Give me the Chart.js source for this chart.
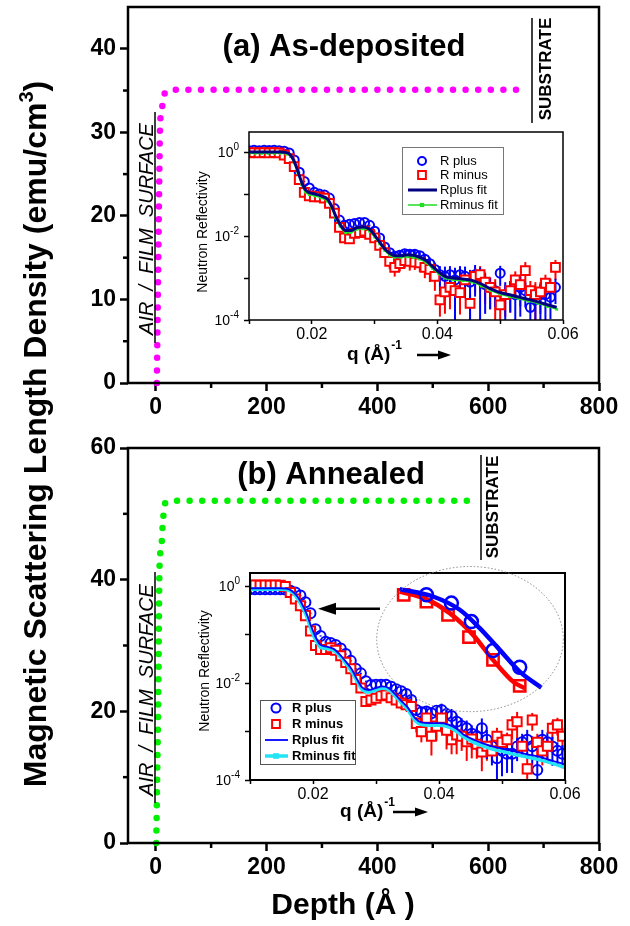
<!DOCTYPE html>
<html><head><meta charset="utf-8">
<script src="https://cdn.jsdelivr.net/npm/chart.js@4.4.1/dist/chart.umd.min.js"></script>
<style>
html,body{margin:0;padding:0;background:#fff;}
#wrap{position:relative;width:630px;height:926px;overflow:hidden;}
canvas{position:absolute;left:0;top:0;}
</style></head>
<body><div id="wrap">
<canvas id="c1" width="630" height="926"></canvas>
<canvas id="c2" width="630" height="926"></canvas>
<canvas id="c3" width="630" height="926"></canvas>
<canvas id="c4" width="630" height="926"></canvas>
</div>
<script>
const FONT = '"Liberation Sans", Arial, Helvetica, sans-serif';

// ---------- main panels: magnetic SLD depth profiles ----------
const depthA = [2, 4, 6, 8, 11, 14, 20, 29, 663];
const msldA  = [0, 11, 22, 31, 32.7, 34.2, 34.9, 35.1, 35.1];
const depthB = [1, 2, 5, 6.5, 7.8, 10.8, 11.9, 13.7, 15.5, 24, 35, 576];
const msldB  = [0, 6, 25, 40, 43.5, 45.6, 47.4, 49.5, 51.4, 51.9, 52, 52];

const depthTicks = [0, 200, 400, 600, 800];
const depthMinor = [100, 300, 500, 700];
const yTicksA = [0, 10, 20, 30, 40];
const yMinorA = [5, 15, 25, 35];
const yTicksB = [0, 20, 40, 60];
const yMinorB = [10, 30, 50];

// ---------- inset axes ----------
const qTickValues = [0.01, 0.02, 0.03, 0.04, 0.05, 0.06];
const qLabelTicks = [0.02, 0.04, 0.06];
const rTickValues = [1e-4, 1e-3, 1e-2, 1e-1, 1];
const rLabelTicks = [1e-4, 1e-2, 1];

// ---------- inset (a) As-deposited ----------
const qA = [0.0100,0.0108,0.0116,0.0124,0.0132,0.0140,0.0148,0.0156,0.0164,0.0172,
0.0180,0.0188,0.0196,0.0204,0.0212,0.0220,0.0228,0.0236,0.0244,0.0252,
0.0260,0.0268,0.0276,0.0284,0.0292,0.0300,0.0308,0.0316,0.0324,0.0332,
0.0340,0.0348,0.0356,0.0364,0.0372,0.0380,0.0388,0.0396,0.0404,0.0412,
0.0420,0.0428,0.0436,0.0444,0.0452,0.0460,0.0468,0.0476,0.0484,0.0492,
0.0500,0.0508,0.0516,0.0524,0.0532,0.0540,0.0548,0.0556,0.0564,0.0572,
0.0580,0.0588];
const rPlusA = [1.08,1.10,1.08,1.10,1.09,1.10,1.08,1.05,0.95,0.65,
0.33,0.20,0.14,0.11,0.10,0.095,0.08,0.045,0.024,0.018,
0.019,0.020,0.021,0.021,0.018,0.013,0.009,0.0055,0.004,0.0033,
0.0035,0.0038,0.0037,0.0037,0.0034,0.0028,0.0022,0.0016,0.0012,0.0011,
0.0012,0.0009,0.0012,0.0011,0.0008,0.0012,0.0009,0.0007,0.0006,0.0005,
0.0013,0.0004,0.0005,0.0004,0.0006,0.0005,0.0002,0.0003,0.0004,0.0004,
0.00035,0.0006];
const rMinusA = [0.95,0.97,0.95,0.97,0.95,0.97,0.95,0.85,0.70,0.45,
0.22,0.11,0.09,0.085,0.085,0.08,0.06,0.035,0.016,0.009,
0.0085,0.0115,0.012,0.013,0.011,0.009,0.006,0.004,0.0025,0.0018,
0.0022,0.0026,0.0025,0.0024,0.0023,0.0018,0.0016,0.0011,0.0003,0.00047,
0.0006,0.0005,0.00045,0.0009,0.00025,0.0011,0.0012,0.0008,0.0006,0.00047,
0.00023,0.0004,0.0005,0.0009,0.0007,0.0015,0.0005,0.0004,0.00047,0.00075,
0.0006,0.0018];
const errPlusA = [0.03,0.03,0.03,0.03,0.03,0.03,0.03,0.03,0.03,0.03,
0.03,0.03,0.03,0.03,0.03,0.03,0.03,0.03,0.03,0.03,
0.03,0.03,0.03,0.03,0.03,0.03,0.15,0.2,0.2,0.25,
0.25,0.25,0.3,0.3,0.3,0.35,0.4,0.45,0.6,0.7,
0.6,0.95,0.6,0.7,0.95,0.7,0.99,0.8,0.7,0.6,
0.5,0.99,0.7,0.99,0.8,0.6,0.7,0.7,0.8,0.99,
0.7,0.6];
const errMinusA = [0.03,0.03,0.03,0.03,0.03,0.03,0.03,0.03,0.03,0.03,
0.03,0.03,0.03,0.03,0.03,0.03,0.03,0.03,0.03,0.03,
0.03,0.03,0.03,0.03,0.03,0.03,0.2,0.25,0.35,0.4,
0.35,0.35,0.4,0.35,0.4,0.45,0.5,0.55,0.6,0.7,
0.7,0.99,0.7,0.6,0.8,0.6,0.6,0.7,0.7,0.99,
0.8,0.7,0.7,0.6,0.7,0.6,0.7,0.99,0.7,0.6,
0.6,0.5];
const fitPlusQA = [0.0100,0.0150,0.0160,0.0166,0.0172,0.0178,0.0184,0.0190,0.0196,0.0205,
0.0215,0.0225,0.0232,0.0238,0.0245,0.0254,0.0262,0.0272,0.0282,0.0292,
0.0300,0.0308,0.0316,0.0324,0.0332,0.0342,0.0352,0.0362,0.0372,0.0382,
0.0392,0.0402,0.0412,0.0425,0.0440,0.0455,0.0470,0.0485,0.0500,0.0515,
0.0530,0.0545,0.0560,0.0575,0.0590];
const fitPlusRA = [1.0,1.0,0.97,0.85,0.6,0.34,0.19,0.125,0.108,0.1,
0.09,0.075,0.05,0.03,0.019,0.0135,0.0135,0.016,0.0165,0.0145,
0.0105,0.0072,0.005,0.0039,0.0034,0.0034,0.0036,0.0035,0.0031,0.0026,
0.0019,0.0014,0.0011,0.001,0.00095,0.00088,0.00072,0.00055,0.00045,0.0004,
0.00035,0.00031,0.00027,0.00023,0.0002];
const fitMinusQA = [0.0100,0.0110,0.0120,0.0130,0.0140,0.0150,0.0160,0.0166,0.0172,0.0178,
0.0184,0.0190,0.0196,0.0205,0.0215,0.0225,0.0232,0.0238,0.0245,0.0254,
0.0262,0.0272,0.0282,0.0292,0.0300,0.0308,0.0316,0.0324,0.0332,0.0342,
0.0352,0.0362,0.0372,0.0382,0.0392,0.0402,0.0412,0.0425,0.0440,0.0455,
0.0470,0.0485,0.0500,0.0515,0.0530,0.0545,0.0560,0.0575,0.0590];
const fitMinusRA = [0.93,0.93,0.93,0.93,0.93,0.93,0.9,0.78,0.55,0.31,
0.17,0.112,0.097,0.09,0.081,0.067,0.045,0.027,0.017,0.012,
0.012,0.0144,0.0148,0.013,0.0094,0.0065,0.0045,0.0035,0.0031,0.0031,
0.0032,0.0031,0.0028,0.0023,0.0017,0.00126,0.001,0.0009,0.00086,0.0008,
0.00065,0.0005,0.00041,0.00036,0.00032,0.00028,0.00025,0.00021,0.00018];

// ---------- inset (b) Annealed ----------
const qB = [0.0100,0.0108,0.0116,0.0124,0.0132,0.0140,0.0148,0.0156,0.0164,0.0172,
0.0180,0.0188,0.0196,0.0204,0.0212,0.0220,0.0228,0.0236,0.0244,0.0252,
0.0260,0.0268,0.0276,0.0284,0.0292,0.0300,0.0308,0.0316,0.0324,0.0332,
0.0340,0.0348,0.0356,0.0364,0.0372,0.0380,0.0388,0.0396,0.0404,0.0412,
0.0420,0.0428,0.0436,0.0444,0.0452,0.0460,0.0468,0.0476,0.0484,0.0492,
0.0500,0.0508,0.0516,0.0524,0.0532,0.0540,0.0548,0.0556,0.0564,0.0572,
0.0580,0.0588,0.0596];
const rPlusB = [0.88,0.88,0.88,0.88,0.88,0.88,0.88,0.87,0.82,0.75,
0.65,0.47,0.28,0.13,0.095,0.072,0.068,0.062,0.052,0.04,
0.029,0.02,0.016,0.011,0.0092,0.0093,0.0093,0.0093,0.0085,0.0075,
0.0068,0.006,0.0045,0.0028,0.0025,0.0026,0.0024,0.0027,0.0028,0.0023,
0.0021,0.0016,0.0013,0.00117,0.0009,0.0008,0.00117,0.00068,0.0005,0.00028,
0.0004,0.00035,0.00035,0.00049,0.0006,0.00068,0.0005,0.00016,0.00068,0.0006,
0.00049,0.0004,0.00035];
const rMinusB = [1.06,1.07,1.06,1.07,1.06,1.07,1.06,1.0,0.75,0.55,
0.4,0.25,0.12,0.06,0.05,0.05,0.054,0.048,0.037,0.027,
0.02,0.012,0.008,0.0042,0.0045,0.0049,0.0055,0.0057,0.005,0.0045,
0.0039,0.0036,0.0033,0.00148,0.001,0.0019,0.0008,0.0013,0.0019,0.00107,
0.00068,0.00085,0.0008,0.00062,0.0007,0.00055,0.00038,0.0005,0.0004,0.0008,
0.0006,0.00068,0.00138,0.0016,0.0005,0.00017,0.00174,0.0006,0.0004,0.0005,
0.00117,0.00138,0.0008];
const errPlusB = [0.03,0.03,0.03,0.03,0.03,0.03,0.03,0.03,0.03,0.03,
0.03,0.03,0.03,0.03,0.03,0.03,0.03,0.03,0.03,0.03,
0.03,0.03,0.03,0.03,0.03,0.03,0.1,0.1,0.15,0.15,
0.15,0.2,0.2,0.25,0.3,0.3,0.3,0.3,0.35,0.35,
0.4,0.4,0.45,0.45,0.5,0.5,0.6,0.6,0.6,0.99,
0.7,0.6,0.6,0.5,0.5,0.6,0.6,0.99,0.6,0.6,
0.6,0.5,0.5];
const errMinusB = [0.03,0.03,0.03,0.03,0.03,0.03,0.03,0.03,0.03,0.03,
0.03,0.03,0.03,0.03,0.03,0.03,0.03,0.03,0.03,0.03,
0.03,0.03,0.03,0.03,0.03,0.03,0.15,0.15,0.2,0.2,
0.25,0.25,0.3,0.35,0.4,0.6,0.6,0.5,0.5,0.6,
0.5,0.6,0.5,0.6,0.6,0.5,0.6,0.5,0.4,0.5,
0.4,0.4,0.5,0.6,0.4,0.9,0.4,0.5,0.5,0.5,
0.4,0.4,0.5];
const fitPlusQB = [0.0100,0.0150,0.0158,0.0166,0.0174,0.0182,0.0190,0.0198,0.0205,0.0212,
0.0222,0.0232,0.0242,0.0252,0.0262,0.0270,0.0278,0.0288,0.0298,0.0310,
0.0320,0.0330,0.0340,0.0350,0.0362,0.0372,0.0385,0.0400,0.0415,0.0428,
0.0440,0.0455,0.0470,0.0486,0.0505,0.0523,0.0540,0.0560,0.0580,0.0600];
const fitPlusRB = [0.92,0.92,0.9,0.82,0.65,0.45,0.27,0.14,0.085,0.062,
0.057,0.052,0.04,0.028,0.019,0.012,0.0082,0.0072,0.0078,0.0086,
0.008,0.006,0.0043,0.0032,0.0019,0.00155,0.0015,0.0015,0.0014,0.00115,
0.00085,0.00068,0.00057,0.00049,0.00043,0.00038,0.00034,0.0003,0.00025,0.00021];
const fitMinusQB = [0.0100,0.0110,0.0120,0.0130,0.0140,0.0150,0.0158,0.0166,0.0174,0.0182,
0.0190,0.0198,0.0205,0.0212,0.0222,0.0232,0.0242,0.0252,0.0262,0.0270,
0.0278,0.0288,0.0298,0.0310,0.0320,0.0330,0.0340,0.0350,0.0362,0.0372,
0.0385,0.0400,0.0415,0.0428,0.0440,0.0455,0.0470,0.0486,0.0505,0.0523,
0.0540,0.0560,0.0580,0.0600];
const fitMinusRB = [0.88,0.88,0.88,0.88,0.88,0.88,0.86,0.78,0.6,0.4,
0.24,0.12,0.075,0.055,0.052,0.048,0.037,0.026,0.017,0.011,
0.0075,0.0066,0.0071,0.0079,0.0074,0.0055,0.004,0.0029,0.0017,0.0014,
0.00135,0.00135,0.00125,0.001,0.00076,0.0006,0.0005,0.00043,0.00038,0.00033,
0.0003,0.00026,0.00022,0.00018];
// magnified view inside the ellipse (drawn on the inset's axes)
const zoomPlusLineQ = [0.03376,0.03905,0.04329,0.04646,0.04963,0.05281,0.05625];
const zoomPlusLineR = [0.883,0.621,0.330,0.138,0.049,0.0174,0.0081];
const zoomMinusLineQ = [0.03376,0.03800,0.04170,0.04540,0.04857,0.05175,0.05360];
const zoomMinusLineR = [0.787,0.548,0.281,0.100,0.0304,0.0108,0.0079];
const zoomPlusPtsQ = [0.0380,0.04197,0.04514,0.04857,0.05281];
const zoomPlusPtsR = [0.673,0.453,0.188,0.0473,0.0214];
const zoomMinusPtsQ = [0.03440,0.0380,0.04143,0.04476,0.04857,0.05281];
const zoomMinusPtsR = [0.673,0.49,0.26,0.0896,0.0304,0.0088];
const ellipseB = {q:0.04492, r:0.0818, dq:0.01481, decades:1.50};
const arrowB = {qFrom:0.03063, qTo:0.02079, r:0.345};

// ---------- helpers ----------
const pts = (xs, ys) => xs.map((x, i) => ({x: x, y: ys[i]}));
function line(ctx, x1, y1, x2, y2) { ctx.beginPath(); ctx.moveTo(x1, y1); ctx.lineTo(x2, y2); ctx.stroke(); }
function rotText(ctx, txt, x, y, font) {
  ctx.save(); ctx.translate(x, y); ctx.rotate(-Math.PI / 2);
  ctx.font = font; ctx.textAlign = 'center'; ctx.textBaseline = 'alphabetic';
  ctx.fillStyle = '#000'; ctx.fillText(txt, 0, 0); ctx.restore();
}
function arrowH(ctx, x1, x2, y, head, half, lw) {
  const d = Math.sign(x2 - x1);
  ctx.lineWidth = lw; line(ctx, x1, y, x2 - d * head * 0.7, y);
  ctx.beginPath(); ctx.moveTo(x2, y); ctx.lineTo(x2 - d * head, y - half); ctx.lineTo(x2 - d * head, y + half);
  ctx.closePath(); ctx.fill();
}
function supRight(ctx, xr, y, base, sup, bf, sf, rise) {
  ctx.font = sf; const ws = ctx.measureText(sup).width;
  ctx.font = bf; const wb = ctx.measureText(base).width;
  const x0 = xr - ws - wb;
  ctx.textAlign = 'left'; ctx.textBaseline = 'middle';
  ctx.font = bf; ctx.fillText(base, x0, y);
  ctx.font = sf; ctx.fillText(sup, x0 + wb, y - rise);
}
function qLabel(ctx, x0, y, ax1, ax2) {
  ctx.fillStyle = '#000'; ctx.strokeStyle = '#000';
  ctx.textAlign = 'left'; ctx.textBaseline = 'middle';
  ctx.font = 'bold 19px ' + FONT; ctx.fillText('q (Å)', x0, y);
  const w = ctx.measureText('q (Å)').width;
  ctx.font = 'bold 12px ' + FONT; ctx.fillText('-1', x0 + w + 1, y - 9);
  arrowH(ctx, ax1, ax2, y, 13, 4.5, 2.5);
}
function mark(ctx, style, x, y, r, color, lw, fill) {
  ctx.save(); ctx.strokeStyle = color; ctx.lineWidth = lw; ctx.fillStyle = fill || color;
  ctx.beginPath();
  if (style === 'circle') ctx.arc(x, y, r, 0, Math.PI * 2);
  else { const s = r * Math.SQRT1_2; ctx.rect(x - s, y - s, 2 * s, 2 * s); }
  if (fill) ctx.fill();
  if (lw > 0) ctx.stroke();
  ctx.restore();
}
function drawErrorBars(chart) {
  const ctx = chart.ctx, a = chart.chartArea, xs = chart.scales.x, ys = chart.scales.y;
  ctx.save(); ctx.beginPath(); ctx.rect(a.left, a.top, a.right - a.left, a.bottom - a.top); ctx.clip();
  chart.data.datasets.forEach(ds => {
    if (!ds.errRel) return;
    ctx.strokeStyle = ds.borderColor; ctx.lineWidth = 2;
    ds.data.forEach((p, i) => {
      const e = ds.errRel[i];
      const lo = Math.max(p.y * (1 - e), ys.min);
      const hi = p.y * (1 + e);
      const x = xs.getPixelForValue(p.x);
      line(ctx, x, ys.getPixelForValue(lo), x, ys.getPixelForValue(hi));
    });
  });
  ctx.restore();
}
function drawLegend(ctx, chart, L) {
  ctx.save();
  ctx.fillStyle = '#fff'; ctx.fillRect(L.x, L.y, L.w, L.h);
  ctx.strokeStyle = L.border; ctx.lineWidth = 1; ctx.strokeRect(L.x + 0.5, L.y + 0.5, L.w, L.h);
  L.items.forEach((it, k) => {
    const ds = chart.data.datasets[it.ds], y = L.rows[k];
    if (it.kind === 'line' || it.kind === 'linept') {
      ctx.strokeStyle = ds.borderColor; ctx.lineWidth = ds.borderWidth; line(ctx, L.x1, y, L.x2, y);
    }
    if (it.kind === 'pt') mark(ctx, ds.pointStyle, L.sx, y, it.r, ds.borderColor, 2, null);
    if (it.kind === 'linept') mark(ctx, 'rect', L.sx, y, it.r, ds.borderColor, 0, ds.borderColor);
    ctx.fillStyle = '#000'; ctx.font = L.font; ctx.textAlign = 'left'; ctx.textBaseline = 'middle';
    ctx.fillText(ds.label, L.tx, y);
  });
  ctx.restore();
}
function noPad(s) { s.paddingTop = 0; s.paddingBottom = 0; s.paddingLeft = 0; s.paddingRight = 0; }

// ---------- main chart factory ----------
const MAIN_YW = 80, MAIN_XH = 50;
function mainChart(id, xs, ys, color, yMax, yMajor, yMinor, area, annot) {
  const deco = {
    id: 'mainDeco',
    afterDraw(chart) {
      const ctx = chart.ctx, a = chart.chartArea, sx = chart.scales.x, sy = chart.scales.y;
      ctx.save();
      ctx.strokeStyle = '#000'; ctx.lineWidth = 2.5;
      ctx.strokeRect(a.left, a.top, a.right - a.left, a.bottom - a.top);
      depthMinor.forEach(v => { const x = sx.getPixelForValue(v); line(ctx, x, a.bottom, x, a.bottom + 5); });
      yMinor.forEach(v => { const y = sy.getPixelForValue(v); line(ctx, a.left - 5, y, a.left, y); });
      annot(ctx, chart);
      ctx.restore();
    }
  };
  return new Chart(document.getElementById(id), {
    type: 'line',
    data: { datasets: [{ data: pts(xs, ys), borderColor: color, borderWidth: 6.5, borderDash: [0, 12.6],
      borderCapStyle: 'round', pointRadius: 0, cubicInterpolationMode: 'monotone', fill: false, clip: false }] },
    options: {
      responsive: false, animation: false, events: [],
      layout: { padding: { left: area.l - MAIN_YW, top: area.t, right: 630 - area.r, bottom: 926 - area.b - MAIN_XH } },
      plugins: { legend: { display: false }, tooltip: { enabled: false } },
      scales: {
        x: { type: 'linear', min: -50, max: 800,
          afterBuildTicks: s => { s.ticks = depthTicks.map(v => ({ value: v })); },
          afterFit: s => { s.height = MAIN_XH; noPad(s); },
          grid: { drawOnChartArea: false, tickLength: 8, tickWidth: 2.5, tickColor: '#000' },
          border: { display: false },
          ticks: { font: { family: FONT, size: 23, weight: 'bold' }, color: '#000', padding: 3,
            maxRotation: 0, autoSkip: false, callback: v => String(v) } },
        y: { type: 'linear', min: 0, max: yMax,
          afterBuildTicks: s => { s.ticks = yMajor.map(v => ({ value: v })); },
          afterFit: s => { s.width = MAIN_YW; noPad(s); },
          grid: { drawOnChartArea: false, tickLength: 8, tickWidth: 2.5, tickColor: '#000' },
          border: { display: false },
          ticks: { font: { family: FONT, size: 23, weight: 'bold' }, color: '#000', padding: 4,
            callback: v => String(v) } }
      }
    },
    plugins: [deco]
  });
}

// ---------- inset chart factory ----------
const INSET_XH = 30;
function insetChart(id, area, yMax, datasets, frameW, extra) {
  const deco = {
    id: 'insetDeco',
    beforeDatasetsDraw(chart) { drawErrorBars(chart); },
    afterDraw(chart) {
      const ctx = chart.ctx, a = chart.chartArea, ys = chart.scales.y;
      ctx.save();
      ctx.strokeStyle = '#000'; ctx.lineWidth = frameW;
      ctx.strokeRect(a.left, a.top, a.right - a.left, a.bottom - a.top);
      ctx.fillStyle = '#000';
      rLabelTicks.forEach(v => {
        const y = ys.getPixelForValue(v);
        supRight(ctx, a.left - 10, y + 1, '10', String(Math.round(Math.log10(v))), '14px ' + FONT, '10px ' + FONT, 6);
      });
      extra(ctx, chart);
      ctx.restore();
    }
  };
  return new Chart(document.getElementById(id), {
    type: 'scatter',
    data: { datasets: datasets },
    options: {
      responsive: false, animation: false, events: [],
      layout: { padding: { left: area.l, top: area.t, right: 630 - area.r, bottom: 926 - area.b - INSET_XH } },
      plugins: { legend: { display: false }, tooltip: { enabled: false } },
      scales: {
        x: { type: 'linear', min: 0.01, max: 0.06,
          afterBuildTicks: s => { s.ticks = qTickValues.map(v => ({ value: v })); },
          afterFit: s => { s.height = INSET_XH; noPad(s); },
          grid: { drawOnChartArea: false, tickLength: 4, tickWidth: 1.5, tickColor: '#000' },
          border: { display: false },
          ticks: { font: { family: FONT, size: 16 }, color: '#000', padding: 1, autoSkip: false, maxRotation: 0,
            callback: v => qLabelTicks.some(t => Math.abs(t - v) < 1e-9) ? v.toFixed(2) : '' } },
        y: { type: 'logarithmic', min: 1e-4, max: yMax,
          afterBuildTicks: s => { s.ticks = rTickValues.map(v => ({ value: v })); },
          afterFit: s => { s.width = 0; noPad(s); },
          grid: { drawOnChartArea: false, tickLength: 5, tickWidth: 1.5, tickColor: '#000' },
          border: { display: false },
          ticks: { display: false } }
      }
    },
    plugins: [deco]
  });
}

// ---------- top panel ----------
mainChart('c1', depthA, msldA, '#ff00ff', 45, yTicksA, yMinorA, { l: 128, t: 7, r: 599, b: 383 }, ctx => {
  ctx.fillStyle = '#000'; ctx.strokeStyle = '#000';
  ctx.font = 'bold 31px ' + FONT; ctx.textAlign = 'center'; ctx.textBaseline = 'middle';
  ctx.fillText('(a) As-deposited', 344, 47);
  rotText(ctx, 'AIR  /  FILM  SURFACE', 153, 229, 'italic 20px ' + FONT);
  ctx.lineWidth = 1.5; line(ctx, 155, 112, 155, 343);
  rotText(ctx, 'SUBSTRATE', 551, 69, 'bold 17px ' + FONT);
  line(ctx, 532, 18, 532, 123);
});

// ---------- bottom panel ----------
mainChart('c2', depthB, msldB, '#00f000', 60, yTicksB, yMinorB, { l: 128, t: 448, r: 599, b: 843 }, ctx => {
  ctx.fillStyle = '#000'; ctx.strokeStyle = '#000';
  ctx.font = 'bold 31px ' + FONT; ctx.textAlign = 'center'; ctx.textBaseline = 'middle';
  ctx.fillText('(b) Annealed', 331, 475);
  rotText(ctx, 'AIR  /  FILM  SURFACE', 153, 690, 'italic 20px ' + FONT);
  ctx.lineWidth = 1.5; line(ctx, 155, 572, 155, 803);
  rotText(ctx, 'SUBSTRATE', 498, 507, 'bold 17px ' + FONT);
  line(ctx, 481, 455, 481, 560);
  // x-axis title
  ctx.font = 'bold 30px ' + FONT; ctx.textAlign = 'center'; ctx.textBaseline = 'middle';
  ctx.fillText('Depth (Å )', 343, 906);
  // shared y-axis title
  ctx.save(); ctx.translate(46, 434); ctx.rotate(-Math.PI / 2);
  const bf = 'bold 32px ' + FONT, sf = 'bold 20px ' + FONT;
  const t1 = 'Magnetic Scattering Length Density (emu/cm', t2 = '3', t3 = ')';
  ctx.font = bf; const w1 = ctx.measureText(t1).width, w3 = ctx.measureText(t3).width;
  ctx.font = sf; const w2 = ctx.measureText(t2).width;
  let x = -(w1 + w2 + w3) / 2;
  ctx.textAlign = 'left'; ctx.textBaseline = 'alphabetic';
  ctx.font = bf; ctx.fillText(t1, x, 0); x += w1;
  ctx.font = sf; ctx.fillText(t2, x, -13); x += w2;
  ctx.font = bf; ctx.fillText(t3, x, 0);
  ctx.restore();
});

// ---------- inset (a) ----------
const dsA = [
  { label: 'Rplus fit', data: pts(fitPlusQA, fitPlusRA), showLine: true, borderColor: '#000080', borderWidth: 3,
    pointRadius: 0, cubicInterpolationMode: 'monotone', order: 0 },
  { label: 'Rminus fit', data: pts(fitMinusQA, fitMinusRA), showLine: true, borderColor: '#22dd22', borderWidth: 1.5,
    pointStyle: 'rect', pointRadius: 2, pointBackgroundColor: '#22ee22', pointBorderWidth: 0,
    cubicInterpolationMode: 'monotone', order: 1 },
  { label: 'R minus', data: pts(qA, rMinusA), pointStyle: 'rect', pointRadius: 6.2, borderColor: '#ff0000',
    borderWidth: 2, backgroundColor: '#ffffff', errRel: errMinusA, order: 2 },
  { label: 'R plus', data: pts(qA, rPlusA), pointStyle: 'circle', pointRadius: 4.5, borderColor: '#0000ff',
    borderWidth: 2, backgroundColor: 'rgba(255,255,255,0)', errRel: errPlusA, order: 3 }
];
insetChart('c3', { l: 249, t: 132, r: 563, b: 320 }, 3, dsA, 1.5, (ctx, chart) => {
  drawLegend(ctx, chart, { x: 402, y: 147, w: 101, h: 67, rows: [161, 175, 190, 205], sx: 422, x1: 408, x2: 437, tx: 440,
    font: '13px ' + FONT, border: '#777',
    items: [{ ds: 3, kind: 'pt', r: 4 }, { ds: 2, kind: 'pt', r: 5.5 }, { ds: 0, kind: 'line' }, { ds: 1, kind: 'linept', r: 3 }] });
  rotText(ctx, 'Neutron Reflectivity', 207, 232, '14px ' + FONT);
  qLabel(ctx, 347, 355, 417, 451);
});

// ---------- inset (b) ----------
const dsB = [
  { label: 'zoom plus', data: pts(zoomPlusLineQ, zoomPlusLineR), showLine: true, borderColor: '#0000ff', borderWidth: 4.5,
    pointRadius: 0, cubicInterpolationMode: 'monotone', order: 0 },
  { label: 'zoom plus pts', data: pts(zoomPlusPtsQ, zoomPlusPtsR), pointStyle: 'circle', pointRadius: 6.5,
    borderColor: '#0000ff', borderWidth: 2.5, backgroundColor: 'rgba(255,255,255,0)', order: 1 },
  { label: 'zoom minus', data: pts(zoomMinusLineQ, zoomMinusLineR), showLine: true, borderColor: '#ff0000', borderWidth: 4.5,
    pointRadius: 0, cubicInterpolationMode: 'monotone', order: 2 },
  { label: 'zoom minus pts', data: pts(zoomMinusPtsQ, zoomMinusPtsR), pointStyle: 'rect', pointRadius: 8,
    borderColor: '#ff0000', borderWidth: 2.5, backgroundColor: 'rgba(255,255,255,0)', order: 3 },
  { label: 'Rplus fit', data: pts(fitPlusQB, fitPlusRB), showLine: true, borderColor: '#0000ff', borderWidth: 1.8,
    pointRadius: 0, cubicInterpolationMode: 'monotone', order: 4 },
  { label: 'Rminus fit', data: pts(fitMinusQB, fitMinusRB), showLine: true, borderColor: '#22e4f4', borderWidth: 3.5,
    pointStyle: 'rect', pointRadius: 2, pointBackgroundColor: '#22e4f4', pointBorderWidth: 0,
    cubicInterpolationMode: 'monotone', order: 5 },
  { label: 'R minus', data: pts(qB, rMinusB), pointStyle: 'rect', pointRadius: 6.4, borderColor: '#ff0000',
    borderWidth: 2, backgroundColor: '#ffffff', errRel: errMinusB, order: 6 },
  { label: 'R plus', data: pts(qB, rPlusB), pointStyle: 'circle', pointRadius: 5, borderColor: '#0000ff',
    borderWidth: 2, backgroundColor: 'rgba(255,255,255,0)', errRel: errPlusB, order: 7 }
];
insetChart('c4', { l: 250, t: 573, r: 565, b: 780 }, 1.9, dsB, 2, (ctx, chart) => {
  const sx = chart.scales.x, sy = chart.scales.y;
  const cx = sx.getPixelForValue(ellipseB.q), cy = sy.getPixelForValue(ellipseB.r);
  const rx = sx.getPixelForValue(ellipseB.q + ellipseB.dq) - cx;
  const ry = cy - sy.getPixelForValue(ellipseB.r * Math.pow(10, ellipseB.decades));
  ctx.save(); ctx.strokeStyle = '#888'; ctx.lineWidth = 1; ctx.setLineDash([1.5, 2]);
  ctx.beginPath(); ctx.ellipse(cx, cy, rx, ry, 0, 0, Math.PI * 2); ctx.stroke(); ctx.restore();
  ctx.fillStyle = '#000'; ctx.strokeStyle = '#000';
  const ay = sy.getPixelForValue(arrowB.r);
  arrowH(ctx, sx.getPixelForValue(arrowB.qFrom), sx.getPixelForValue(arrowB.qTo), ay, 18, 6, 2.5);
  drawLegend(ctx, chart, { x: 260, y: 700, w: 95, h: 64, rows: [708, 724, 740, 756], sx: 276, x1: 265, x2: 288, tx: 292,
    font: 'bold 13px ' + FONT, border: '#555',
    items: [{ ds: 7, kind: 'pt', r: 4.5 }, { ds: 6, kind: 'pt', r: 5.5 }, { ds: 4, kind: 'line' }, { ds: 5, kind: 'linept', r: 4 }] });
  rotText(ctx, 'Neutron Reflectivity', 209, 671, '14px ' + FONT);
  qLabel(ctx, 340, 812, 393, 428);
});
</script>
</body></html>
